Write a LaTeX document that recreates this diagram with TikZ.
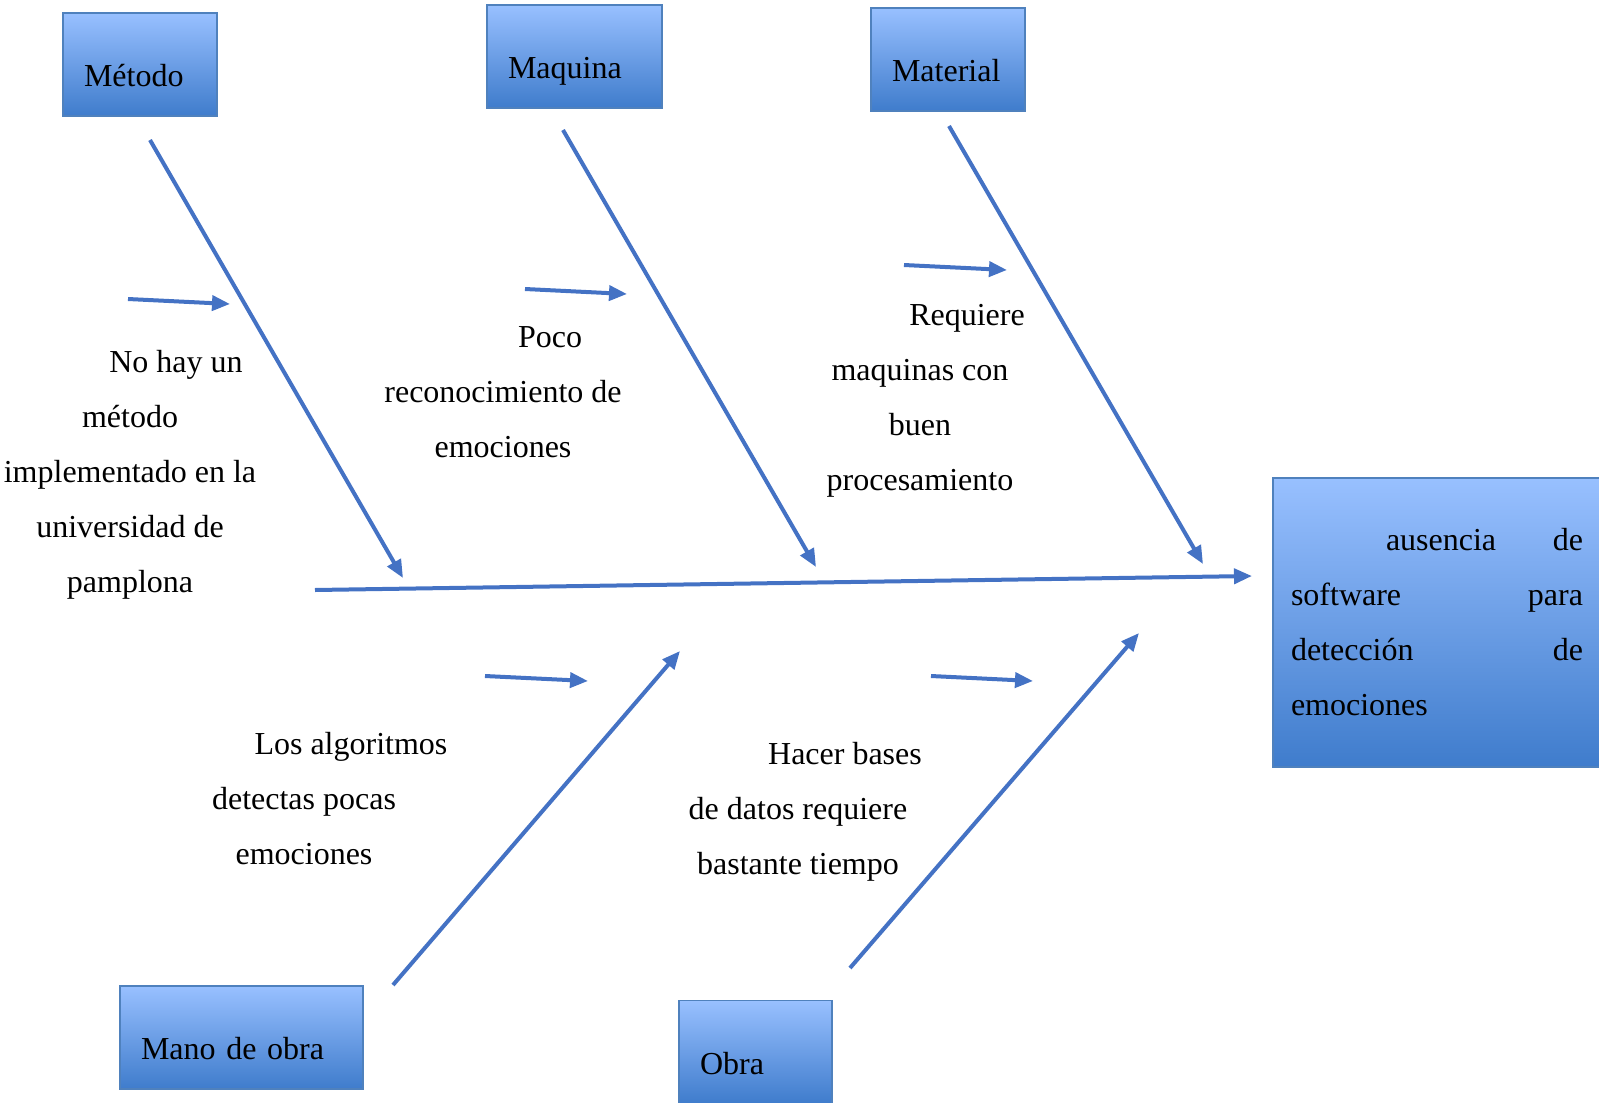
\documentclass[tikz,border=0pt]{standalone}
\usepackage{fontspec}
\setmainfont{Liberation Serif}
\usepackage{xcolor}
\definecolor{boxtop}{HTML}{98C0FF}
\definecolor{boxbot}{HTML}{3F7CCC}
\definecolor{boxedge}{HTML}{4F81BD}
\definecolor{bone}{HTML}{4472C4}
\usetikzlibrary{arrows.meta, positioning, calc}

\begin{document}
\begin{tikzpicture}[
  x=1pt, y=-1pt,
  catbox/.style={draw=boxedge, line width=1.5pt, top color=boxtop, bottom color=boxbot,
    minimum width=#1, minimum height=103, inner xsep=21pt, inner ysep=0pt,
    text width=#1-42pt, align=left, text height=44pt, text depth=0pt,
    font=\fontsize{32}{38}\selectfont},
  effbox/.style={draw=boxedge, line width=1.5pt, top color=boxtop, bottom color=boxbot,
    minimum width=328, minimum height=289, inner xsep=18pt,
    text width=292pt, align=left, font=\fontsize{32}{55}\selectfont},
  cause/.style={align=center, font=\fontsize{32}{55}\selectfont},
  arr/.style={draw=bone, line width=4pt, -{Triangle[length=18pt,width=15pt]}}
]
  \useasboundingbox (0,0) rectangle (1599,1103);

  % Categories
  \node[catbox=154] (metodo) at (140,64.5) {Método};
  \node[catbox=175] (maquina) at (574.5,56.5) {Maquina};
  \node[catbox=154] (material) at (948,59.5) {Material};
  \node[catbox=243] (manoobra) at (241.5,1037.5) {Mano de obra};
  \node[catbox=153] (obra) at (755.5,1052) {Obra};

  % Effect
  \node[effbox] (efecto) at (1437,622.5)
    {\hspace*{95pt}ausencia\hfill de\\software\hfill para\\detección\hfill de\\emociones};

  % Spine
  \coordinate (spine-a) at (315,590);
  \coordinate (spine-b) at (1252,576);
  \draw[arr] (spine-a) -- (spine-b);

  % Bones
  \coordinate (metodo-a) at (150,140);   \coordinate (metodo-b) at (403,578);
  \coordinate (maquina-a) at (563,130);  \coordinate (maquina-b) at (816,567);
  \coordinate (material-a) at (949,126); \coordinate (material-b) at (1203,564);
  \coordinate (mano-a) at (393,985);     \coordinate (mano-b) at (680,651);
  \coordinate (obra-a) at (850,968);     \coordinate (obra-b) at (1139,633);
  \draw[arr] (metodo-a) -- (metodo-b);
  \draw[arr] (maquina-a) -- (maquina-b);
  \draw[arr] (material-a) -- (material-b);
  \draw[arr] (mano-a) -- (mano-b);
  \draw[arr] (obra-a) -- (obra-b);

  % Small arrows
  \coordinate (s1-a) at (128,299);  \coordinate (s1-b) at (230,304);
  \coordinate (s2-a) at (525,289);  \coordinate (s2-b) at (627,294);
  \coordinate (s3-a) at (904,265);  \coordinate (s3-b) at (1007,270);
  \coordinate (s4-a) at (485,676);  \coordinate (s4-b) at (588,681);
  \coordinate (s5-a) at (931,676);  \coordinate (s5-b) at (1033,681);
  \draw[arr] (s1-a) -- (s1-b);
  \draw[arr] (s2-a) -- (s2-b);
  \draw[arr] (s3-a) -- (s3-b);
  \draw[arr] (s4-a) -- (s4-b);
  \draw[arr] (s5-a) -- (s5-b);

  % Causes
  \node[cause] (c-metodo) at (130,475)
    {\hspace*{92pt}No hay un\\método\\implementado en la\\universidad de\\pamplona};
  \node[cause] (c-maquina) at (503,392)
    {\hspace*{94pt}Poco\\reconocimiento de\\emociones};
  \node[cause] (c-material) at (920,401)
    {\hspace*{94pt}Requiere\\maquinas con\\buen\\procesamiento};
  \node[cause] (c-mano) at (304,799)
    {\hspace*{94pt}Los algoritmos\\detectas pocas\\emociones};
  \node[cause] (c-obra) at (798,812)
    {\hspace*{94pt}Hacer bases\\de datos requiere\\bastante tiempo};
\end{tikzpicture}
\end{document}
